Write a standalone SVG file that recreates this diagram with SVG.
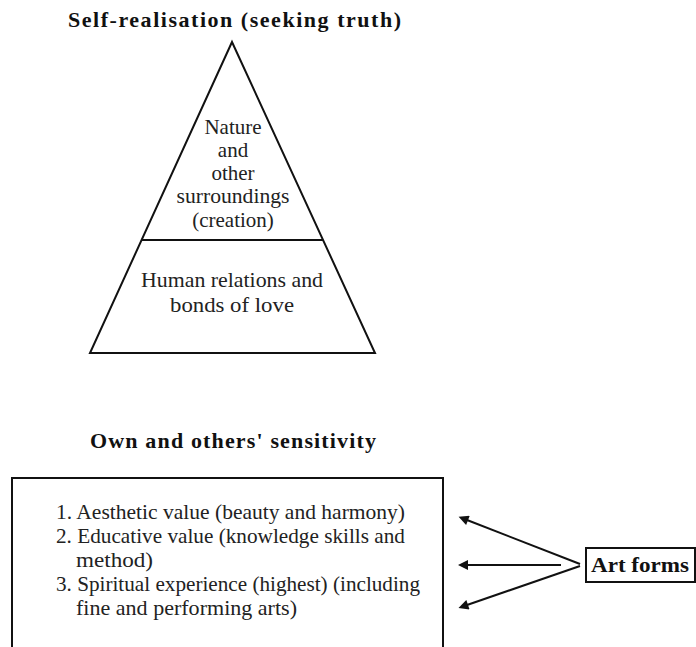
<svg xmlns="http://www.w3.org/2000/svg" width="696" height="647" viewBox="0 0 696 647" font-family="Liberation Serif">
<style>
  .t { font-size: 22px; font-weight: bold; fill: #111; }
  .b { font-size: 21px; fill: #222; }
  .c { text-anchor: middle; }
  .ln { stroke: #111; stroke-width: 2; fill: none; }
</style>
<defs>
  <marker id="ah" viewBox="0 0 10 10" refX="1" refY="5" markerWidth="11" markerHeight="10" markerUnits="userSpaceOnUse" orient="auto-start-reverse">
    <path d="M0,0 L10,5 L0,10 Z" fill="#111"/>
  </marker>
</defs>
<rect width="696" height="647" fill="#fff"/>

<g id="title-top" font-family="Liberation Serif">
  <text class="t" x="68" y="27" textLength="333" lengthAdjust="spacing">Self-realisation (seeking truth)</text>
</g>

<g id="pyramid">
  <polygon class="ln" points="232,42 375,353 90,353"/>
  <line class="ln" x1="141" y1="240" x2="323" y2="240"/>
</g>
<g id="pyramid-top" font-family="Liberation Serif">
  <text class="b c" x="233" y="134">Nature</text>
  <text class="b c" x="233" y="157">and</text>
  <text class="b c" x="233" y="180">other</text>
  <text class="b c" x="233" y="203" textLength="113" lengthAdjust="spacingAndGlyphs">surroundings</text>
  <text class="b c" x="233" y="227">(creation)</text>
</g>
<g id="pyramid-bottom" font-family="Liberation Serif">
  <text class="b c" x="232" y="287" textLength="182" lengthAdjust="spacingAndGlyphs">Human relations and</text>
  <text class="b c" x="232" y="312" textLength="124" lengthAdjust="spacingAndGlyphs">bonds of love</text>
</g>

<g id="title-bottom" font-family="Liberation Serif">
  <text class="t" x="90" y="448" textLength="286" lengthAdjust="spacing">Own and others' sensitivity</text>
</g>

<g id="values-box" font-family="Liberation Serif">
  <rect class="ln" x="12" y="478" width="431" height="190"/>
  <text class="b" x="56" y="519" textLength="349" lengthAdjust="spacingAndGlyphs">1. Aesthetic value (beauty and harmony)</text>
  <text class="b" x="56" y="543" textLength="349" lengthAdjust="spacingAndGlyphs">2. Educative value (knowledge skills and</text>
  <text class="b" x="76" y="567" textLength="77" lengthAdjust="spacingAndGlyphs">method)</text>
  <text class="b" x="56" y="591" textLength="364" lengthAdjust="spacingAndGlyphs">3. Spiritual experience (highest) (including</text>
  <text class="b" x="76" y="615" textLength="221" lengthAdjust="spacingAndGlyphs">fine and performing arts)</text>
</g>

<g id="connectors">
  <line class="ln" x1="580" y1="564" x2="467" y2="520" marker-end="url(#ah)"/>
  <line class="ln" x1="561" y1="565" x2="467" y2="565" marker-end="url(#ah)"/>
  <line class="ln" x1="580" y1="566" x2="467" y2="605" marker-end="url(#ah)"/>
</g>

<g id="art-forms" font-family="Liberation Serif">
  <rect class="ln" x="586" y="548" width="109" height="34"/>
  <text x="591" y="572" font-size="22" font-weight="bold" fill="#111" textLength="98" lengthAdjust="spacingAndGlyphs">Art forms</text>
</g>
</svg>
